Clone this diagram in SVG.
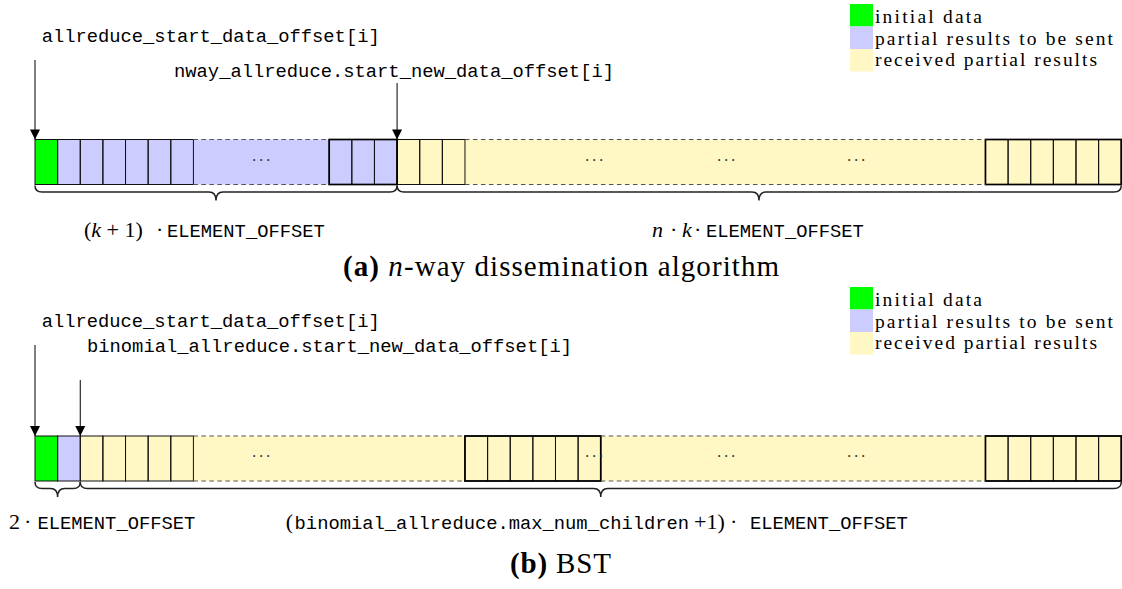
<svg xmlns="http://www.w3.org/2000/svg" width="1122" height="589" viewBox="0 0 1122 589">
  <style>
    .tt { font-family: "Liberation Mono", "DejaVu Sans Mono", monospace; font-size: 18.8px; fill: #000; }
    .rm { font-family: "Liberation Serif", "DejaVu Serif", serif; font-size: 22px; fill: #000; }
    .leg { font-family: "Liberation Serif", "DejaVu Serif", serif; font-size: 19.5px; fill: #000; }
    .cap { font-family: "Liberation Serif", "DejaVu Serif", serif; font-size: 29px; fill: #000; }
    .it { font-style: italic; }
    .dots { font-family: "Liberation Serif", serif; font-size: 16px; fill: #333; letter-spacing: 1.6px; text-anchor: middle; }
    .green { fill: #00ff00; }
    .blue { fill: #ccccff; }
    .yellow { fill: #fff8c5; }
    .cell { stroke: #111; stroke-width: 1; }
    .grp { fill: none; stroke: #000; stroke-width: 1.7; }
    .dash { stroke: #555; stroke-width: 1.2; stroke-dasharray: 4.5 3.5; fill: none; }
    .brace { fill: none; stroke: #222; stroke-width: 1.5; }
    .ptr { stroke: #000; stroke-width: 1; fill: none; marker-end: url(#head); }
  </style>
  <defs>
    <marker id="head" markerUnits="userSpaceOnUse" markerWidth="12" markerHeight="12" viewBox="0 0 12 12" refX="11" refY="6" orient="auto">
      <path d="M1,1 L11,6 L1,11 Z" fill="#000"/>
    </marker>
  </defs>

  <!-- ============ (a) n-way dissemination ============ -->
  <g id="legend-a">
    <rect class="green" x="850" y="4" width="23" height="22.5"/>
    <rect class="blue" x="850" y="26.5" width="23" height="22.5"/>
    <rect class="yellow" x="850" y="49" width="23" height="22.5"/>
    <text class="leg" x="875" y="22.5" textLength="107">initial data</text>
    <text class="leg" x="875" y="44.5" textLength="238">partial results to be sent</text>
    <text class="leg" x="875" y="66.3" textLength="222">received partial results</text>
  </g>

  <g id="label-a-start">
    <text class="tt" x="41.7" y="42" textLength="338">allreduce_start_data_offset[i]</text>
  </g>
  <g id="label-a-new">
    <text class="tt" x="174" y="77" textLength="440">nway_allreduce.start_new_data_offset[i]</text>
  </g>

  <g id="buffer-a">
    <!-- fills -->
    <rect class="green" x="35" y="139.5" width="22.63" height="45"/>
    <rect class="blue" x="57.63" y="139.5" width="339.45" height="45"/>
    <rect class="yellow" x="397.08" y="139.5" width="724.16" height="45"/>
    <!-- solid cells: initial + 6 outgoing -->
    <g class="cell" fill="none">
      <rect x="35" y="139.5" width="22.63" height="45"/>
      <rect x="57.63" y="139.5" width="22.63" height="45"/>
      <rect x="80.26" y="139.5" width="22.63" height="45"/>
      <rect x="102.89" y="139.5" width="22.63" height="45"/>
      <rect x="125.52" y="139.5" width="22.63" height="45"/>
      <rect x="148.15" y="139.5" width="22.63" height="45"/>
      <rect x="170.78" y="139.5" width="22.63" height="45"/>
      <!-- last 3 outgoing -->
      <rect x="329.19" y="139.5" width="22.63" height="45"/>
      <rect x="351.82" y="139.5" width="22.63" height="45"/>
      <rect x="374.45" y="139.5" width="22.63" height="45"/>
      <!-- first 3 received -->
      <rect x="397.08" y="139.5" width="22.63" height="45"/>
      <rect x="419.71" y="139.5" width="22.63" height="45"/>
      <rect x="442.34" y="139.5" width="22.63" height="45"/>
      <!-- last 6 received -->
      <rect x="985.46" y="139.5" width="22.63" height="45"/>
      <rect x="1008.09" y="139.5" width="22.63" height="45"/>
      <rect x="1030.72" y="139.5" width="22.63" height="45"/>
      <rect x="1053.35" y="139.5" width="22.63" height="45"/>
      <rect x="1075.98" y="139.5" width="22.63" height="45"/>
      <rect x="1098.61" y="139.5" width="22.63" height="45"/>
    </g>
    <rect class="grp" x="329.19" y="139.5" width="67.89" height="45"/>
    <rect class="grp" x="985.46" y="139.5" width="135.78" height="45"/>
    <!-- elided stretches -->
    <path class="dash" d="M193.41,139.5 H329.19 M193.41,184.5 H329.19"/>
    <path class="dash" d="M464.97,139.5 H985.46 M464.97,184.5 H985.46"/>
    <text class="dots" x="262" y="166">···</text>
    <text class="dots" x="595" y="166">···</text>
    <text class="dots" x="727" y="166">···</text>
    <text class="dots" x="857" y="166">···</text>
  </g>

  <g id="connectors-a">
    <path class="ptr" d="M35,60 V139.5"/>
    <path class="ptr" d="M397.08,83 V139.5"/>
    <path class="brace" d="M35,185.5 C35,190 37,192 42,192 L209,192 C213.5,192 216,195 216,200.5 C216,195 218.5,192 223,192 L390,192 C395,192 397.08,190 397.08,185.5"/>
    <path class="brace" d="M397.08,185.5 C397.08,190 399,192 404,192 L752,192 C756.5,192 759,195 759,200.5 C759,195 761.5,192 766,192 L1114,192 C1119,192 1121.24,190 1121.24,185.5"/>
  </g>

  <g id="size-a-own">
    <text class="rm" y="237"><tspan x="84">(</tspan><tspan class="it">k</tspan><tspan> + 1)</tspan><tspan x="156">·</tspan><tspan class="tt" x="167">ELEMENT_OFFSET</tspan></text>
  </g>
  <g id="size-a-recv">
    <text class="rm" y="237"><tspan class="it" x="652">n</tspan><tspan x="670">·</tspan><tspan class="it" x="682">k</tspan><tspan x="694">·</tspan><tspan class="tt" x="706">ELEMENT_OFFSET</tspan></text>
  </g>

  <text class="cap" x="343" y="276" textLength="436"><tspan font-weight="bold">(a)</tspan> <tspan class="it">n</tspan>-way dissemination algorithm</text>

  <!-- ============ (b) BST ============ -->
  <g id="legend-b">
    <rect class="green" x="850" y="287" width="23" height="22.5"/>
    <rect class="blue" x="850" y="309.5" width="23" height="22.5"/>
    <rect class="yellow" x="850" y="332" width="23" height="22.5"/>
    <text class="leg" x="875" y="305.5" textLength="107">initial data</text>
    <text class="leg" x="875" y="327.5" textLength="238">partial results to be sent</text>
    <text class="leg" x="875" y="349.3" textLength="222">received partial results</text>
  </g>

  <g id="label-b-start">
    <text class="tt" x="41.7" y="327" textLength="338">allreduce_start_data_offset[i]</text>
  </g>
  <g id="label-b-new">
    <text class="tt" x="87" y="352" textLength="485">binomial_allreduce.start_new_data_offset[i]</text>
  </g>

  <g id="buffer-b">
    <rect class="green" x="35" y="436" width="22.63" height="45"/>
    <rect class="blue" x="57.63" y="436" width="22.63" height="45"/>
    <rect class="yellow" x="80.26" y="436" width="1040.98" height="45"/>
    <g class="cell" fill="none">
      <rect x="35" y="436" width="22.63" height="45"/>
      <rect x="57.63" y="436" width="22.63" height="45"/>
      <rect x="80.26" y="436" width="22.63" height="45"/>
      <rect x="102.89" y="436" width="22.63" height="45"/>
      <rect x="125.52" y="436" width="22.63" height="45"/>
      <rect x="148.15" y="436" width="22.63" height="45"/>
      <rect x="170.78" y="436" width="22.63" height="45"/>
      <!-- middle block of 6 -->
      <rect x="464.97" y="436" width="22.63" height="45"/>
      <rect x="487.6" y="436" width="22.63" height="45"/>
      <rect x="510.23" y="436" width="22.63" height="45"/>
      <rect x="532.86" y="436" width="22.63" height="45"/>
      <rect x="555.49" y="436" width="22.63" height="45"/>
      <rect x="578.12" y="436" width="22.63" height="45"/>
      <!-- last block of 6 -->
      <rect x="985.46" y="436" width="22.63" height="45"/>
      <rect x="1008.09" y="436" width="22.63" height="45"/>
      <rect x="1030.72" y="436" width="22.63" height="45"/>
      <rect x="1053.35" y="436" width="22.63" height="45"/>
      <rect x="1075.98" y="436" width="22.63" height="45"/>
      <rect x="1098.61" y="436" width="22.63" height="45"/>
    </g>
    <rect class="grp" x="464.97" y="436" width="135.78" height="45"/>
    <rect class="grp" x="985.46" y="436" width="135.78" height="45"/>
    <path class="dash" d="M193.41,436 H464.97 M193.41,481 H464.97"/>
    <path class="dash" d="M600.75,436 H985.46 M600.75,481 H985.46"/>
    <text class="dots" x="262" y="462">···</text>
    <text class="dots" x="595" y="462">···</text>
    <text class="dots" x="727" y="462">···</text>
    <text class="dots" x="857" y="462">···</text>
  </g>

  <g id="connectors-b">
    <path class="ptr" d="M35,345 V436"/>
    <path class="ptr" d="M80.26,380 V436"/>
    <path class="brace" d="M35,482 C35,486.5 37,488.5 42,488.5 L50.5,488.5 C55,488.5 57.6,491.5 57.6,497 C57.6,491.5 60.2,488.5 64.7,488.5 L73.3,488.5 C78.3,488.5 80.26,486.5 80.26,482"/>
    <path class="brace" d="M80.26,482 C80.26,486.5 82.3,488.5 87.3,488.5 L593.7,488.5 C598.2,488.5 600.75,491.5 600.75,497 C600.75,491.5 603.3,488.5 607.8,488.5 L1114,488.5 C1119,488.5 1121.24,486.5 1121.24,482"/>
  </g>

  <g id="size-b-own">
    <text class="rm" y="529"><tspan x="9">2</tspan><tspan x="24">·</tspan><tspan class="tt" x="37.5">ELEMENT_OFFSET</tspan></text>
  </g>
  <g id="size-b-recv">
    <text class="rm" y="529"><tspan x="285.7">(</tspan><tspan class="tt" x="294.6">binomial_allreduce.max_num_children</tspan><tspan x="694">+1)</tspan><tspan x="730">·</tspan><tspan class="tt" x="750">ELEMENT_OFFSET</tspan></text>
  </g>

  <text class="cap" x="510" y="573" textLength="101"><tspan font-weight="bold">(b)</tspan> BST</text>
</svg>
